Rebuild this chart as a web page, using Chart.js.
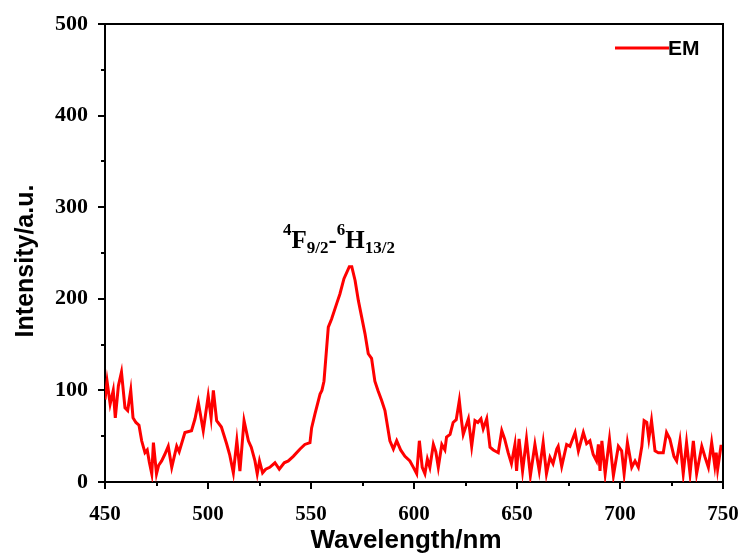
<!DOCTYPE html>
<html>
<head>
<meta charset="utf-8">
<script src="https://cdn.jsdelivr.net/npm/chart.js@4/dist/chart.umd.min.js"></script>
<style>
html,body{margin:0;padding:0;background:#fff;}
#wrap{width:747px;height:557px;position:relative;}
</style>
</head>
<body>
<div id="wrap"><canvas id="c" width="747" height="557"></canvas></div>
<script>
const seriesName = "EM";
const xTitle = "Wavelength/nm";
const yTitle = "Intensity/a.u.";
const xTicks = [450, 500, 550, 600, 650, 700, 750];
const yTicks = [0, 100, 200, 300, 400, 500];
const wavelength = [450,451,452.5,454,455,456.5,458,459.7,461,462.5,463.6,465,466.5,467.8,469.4,470.5,471.5,472.7,473.5,475,476,477.5,479,480.7,482.4,484.8,486,488.8,492,493.7,495.3,497.7,500.1,501.5,502.6,504.2,506.5,509,510.5,512.3,514,515.5,517.5,519.6,521,522.8,523.9,525,526.5,528,530,532.5,534.6,537,539,541.4,544.7,547,549.5,550.3,551.9,554.4,555.3,556.3,558.4,560,562.5,564,566,568.6,569.8,571.4,573,574.6,576.2,577.8,579.4,581,582.5,584.3,585.9,588.3,590,591.6,593.5,595.6,598,599.7,601.3,602.6,604,605.3,606.5,607.7,609.4,610.6,611.8,613.5,615,615.8,617.5,619,620.5,622,623,623.9,626.4,628,629.6,631,632.5,633.6,635.3,636.9,638.5,640.9,642.6,644,645.7,647.3,649,649.8,651,652.7,654.6,656.5,658.7,660.8,662.7,664.3,666,667.5,669.3,670,671.7,674.1,675.7,678.2,679.8,682.2,683.8,685.4,687,688.6,689.5,690.3,691.2,692.8,694.9,696.8,699.2,700.8,702,703.6,705.7,707.3,708.9,710.6,711.7,713,714,715.3,717,718.6,721,722.6,724.2,726.2,727.5,729.1,730.7,732.3,734,735.6,737.2,739.7,741.3,742.9,744.5,746,746.7,747.4,749,750];
const intensity = [90,110,85,100,70,105,120,81,78,100,70,65,62,45,32,35,22,9,43,9,18,23,30,39,16,39,33,54,56,69,87,56,94,70,100,67,60,42,30,10,45,12,67,45,38,23,9,23,10,14,16,21,14,21,23,28,36,41,43,59,74,96,100,110,169,178,195,205,222,235,235,220,198,180,162,140,135,110,100,89,78,45,36,45,35,28,23,16,9,45,16,9,25,16,41,33,16,41,35,49,52,65,68,89,68,52,69,39,67,65,69,58,69,38,35,32,56,47,32,20,41,12,47,12,47,7,41,12,43,9,27,20,36,39,17,41,39,54,34,54,42,45,30,23,41,12,45,9,47,7,39,34,9,43,16,23,16,39,67,65,47,67,34,32,32,54,47,28,23,45,9,43,9,45,9,39,27,16,43,18,32,14,39,39];

const points = wavelength.map((w, i) => ({x: w, y: intensity[i]}));
const RED = '#ff0000';
const serif = "'Liberation Serif', 'Times New Roman', serif";
const sans = "'Liberation Sans', Arial, sans-serif";

const decor = {
  id: 'decor',
  afterDraw(chart) {
    const ctx = chart.ctx;
    const a = chart.chartArea;
    const xs = chart.scales.x, ys = chart.scales.y;
    ctx.save();
    // frame top/right
    ctx.strokeStyle = '#000';
    ctx.lineWidth = 2;
    ctx.beginPath();
    ctx.moveTo(a.left, a.top); ctx.lineTo(a.right, a.top); ctx.lineTo(a.right, a.bottom);
    ctx.stroke();
    // minor ticks
    for (let v = 475; v < 750; v += 50) {
      const px = Math.round(xs.getPixelForValue(v));
      ctx.beginPath(); ctx.moveTo(px, a.bottom); ctx.lineTo(px, a.bottom + 4); ctx.stroke();
    }
    for (let v = 50; v < 500; v += 100) {
      const py = Math.round(ys.getPixelForValue(v));
      ctx.beginPath(); ctx.moveTo(a.left, py); ctx.lineTo(a.left - 4, py); ctx.stroke();
    }
    ctx.fillStyle = '#000';
    // axis titles
    ctx.font = "bold 26px " + sans;
    ctx.textAlign = 'center';
    ctx.textBaseline = 'middle';
    ctx.fillText(xTitle, 406, 541);
    ctx.save();
    ctx.translate(26, 261);
    ctx.rotate(-Math.PI / 2);
    ctx.font = "bold 25px " + sans;
    ctx.fillText(yTitle, 0, 0);
    ctx.restore();
    // legend
    ctx.strokeStyle = RED; ctx.lineWidth = 3;
    ctx.beginPath(); ctx.moveTo(615, 48); ctx.lineTo(669, 48); ctx.stroke();
    ctx.font = "bold 21px " + sans;
    ctx.textBaseline = 'middle';
    ctx.textAlign = 'left';
    ctx.fillText(seriesName, 668, 49);
    // annotation 4F9/2-6H13/2
    ctx.textBaseline = 'alphabetic';
    let x = 283;
    const base = 248;
    const big = "bold 25px " + serif;
    const small = "bold 17px " + serif;
    const parts = [
      ["4", small, -13], ["F", big, 0], ["9/2", small, 5], ["-", big, 0],
      ["6", small, -13], ["H", big, 0], ["13/2", small, 5]
    ];
    for (const [t, f, dy] of parts) {
      ctx.font = f;
      ctx.fillText(t, x, base + dy);
      x += ctx.measureText(t).width;
    }
    ctx.restore();
  }
};

new Chart(document.getElementById('c'), {
  type: 'line',
  data: {
    datasets: [{
      label: seriesName,
      data: points,
      borderColor: RED,
      borderWidth: 3,
      pointRadius: 0,
      tension: 0,
      fill: false
    }]
  },
  options: {
    responsive: false,
    animation: false,
    layout: {padding: {top: 24, right: 24, left: 0, bottom: 0}},
    plugins: {legend: {display: false}, tooltip: {enabled: false}},
    scales: {
      x: {
        type: 'linear', min: 450, max: 750,
        afterBuildTicks(s) { s.ticks = xTicks.map(v => ({value: v})); },
        afterFit(s) { s.height = 75; s.paddingLeft = 0; s.paddingRight = 0; },
        border: {display: true, color: '#000', width: 2},
        grid: {display: true, drawOnChartArea: false, drawTicks: true, tickLength: 7, color: '#000', lineWidth: 2},
        ticks: {color: '#000', font: {family: serif, size: 21, weight: 'bold'}, padding: 13, maxRotation: 0},
        title: {display: false}
      },
      y: {
        min: 0, max: 500,
        afterBuildTicks(s) { s.ticks = yTicks.map(v => ({value: v})); },
        afterFit(s) { s.width = 105; s.paddingTop = 0; s.paddingBottom = 0; },
        border: {display: true, color: '#000', width: 2},
        grid: {display: true, drawOnChartArea: false, drawTicks: true, tickLength: 7, color: '#000', lineWidth: 2},
        ticks: {color: '#000', font: {family: serif, size: 22, weight: 'bold'}, padding: 10},
        title: {display: false}
      }
    }
  },
  plugins: [decor]
});
</script>
</body>
</html>
